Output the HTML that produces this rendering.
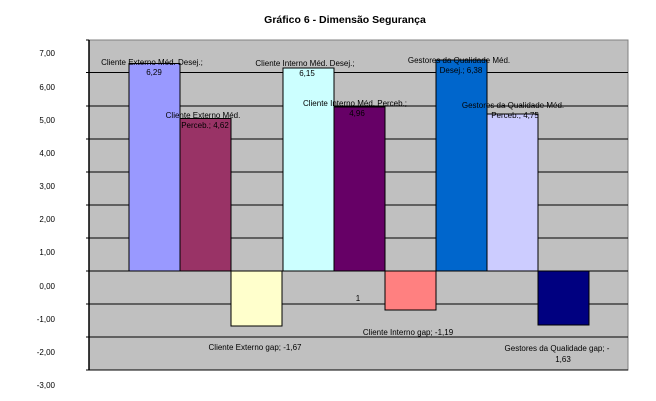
<!DOCTYPE html><html><head><style>body{margin:0;background:#fff}svg{display:block}text{font-family:"Liberation Sans",sans-serif;font-size:8px;fill:#000}</style></head><body>
<svg width="656" height="401" viewBox="0 0 656 401">
<text x="345" y="23" text-anchor="middle" style="font-size:10.5px;font-weight:bold">Gráfico 6 - Dimensão Segurança</text>
<rect x="89" y="40" width="539" height="330" fill="#c0c0c0" stroke="#808080" stroke-width="1"/>
<g stroke="#000" stroke-width="1">
<line x1="86" y1="72.5" x2="628" y2="72.5"/><line x1="86" y1="106" x2="628" y2="106"/><line x1="86" y1="139" x2="628" y2="139"/><line x1="86" y1="172" x2="628" y2="172"/><line x1="86" y1="205" x2="628" y2="205"/><line x1="86" y1="238" x2="628" y2="238"/><line x1="86" y1="271" x2="628" y2="271"/><line x1="86" y1="304" x2="628" y2="304"/><line x1="86" y1="337" x2="628" y2="337"/><line x1="86" y1="370" x2="628" y2="370"/><line x1="86" y1="40" x2="89" y2="40"/>
<line x1="89" y1="40" x2="89" y2="370" stroke-width="1.5"/>
</g>
<g stroke="#000" stroke-width="1">
<rect x="129" y="63.5" width="51" height="207.5" fill="#9999ff"/>
<rect x="180" y="118.5" width="51" height="152.5" fill="#993366"/>
<rect x="231" y="271" width="51" height="55" fill="#ffffcc"/>
<rect x="283" y="68" width="51" height="203" fill="#ccffff"/>
<rect x="334" y="107" width="51" height="164" fill="#660066"/>
<rect x="385" y="271" width="51" height="39" fill="#ff8080"/>
<rect x="436" y="60" width="51" height="211" fill="#0066cc"/>
<rect x="487" y="114" width="51" height="157" fill="#ccccff"/>
<rect x="538" y="271" width="51" height="54" fill="#000080"/>
</g>
<g text-anchor="end"><text x="55" y="56">7,00</text><text x="55" y="90">6,00</text><text x="55" y="123">5,00</text><text x="55" y="156">4,00</text><text x="55" y="189">3,00</text><text x="55" y="222">2,00</text><text x="55" y="255">1,00</text><text x="55" y="289">0,00</text><text x="55" y="322">-1,00</text><text x="55" y="355">-2,00</text><text x="55" y="388">-3,00</text></g>
<g text-anchor="middle">
<text x="152" y="65">Cliente Externo Méd. Desej.;</text><text x="154" y="75">6,29</text>
<text x="203" y="118">Cliente Externo Méd.</text><text x="205" y="128">Perceb.; 4,62</text>
<text x="305" y="66">Cliente Interno Méd. Desej.;</text><text x="307" y="76">6,15</text>
<text x="355" y="106">Cliente Interno Méd. Perceb.;</text><text x="357" y="116">4,96</text>
<text x="459" y="63">Gestores da Qualidade Méd.</text><text x="461" y="73">Desej.; 6,38</text>
<text x="513" y="108">Gestores da Qualidade Méd.</text><text x="515" y="118">Perceb.; 4,75</text>
<text x="255" y="350">Cliente Externo gap; -1,67</text>
<text x="358" y="301">1</text>
<text x="408" y="335">Cliente Interno gap; -1,19</text>
<text x="557" y="351">Gestores da Qualidade gap; -</text><text x="563" y="362">1,63</text>
</g>
</svg></body></html>
